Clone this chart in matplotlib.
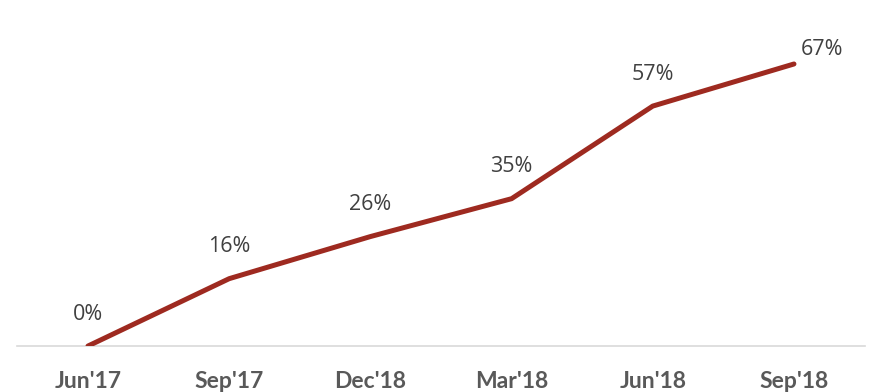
import matplotlib.pyplot as plt

# quarterly share values
quarters = ["Jun'17", "Sep'17", "Dec'18", "Mar'18", "Jun'18", "Sep'18"]
share = [0, 16, 26, 35, 57, 67]

fig = plt.figure(figsize=(8.74, 3.92), dpi=100)
ax = fig.add_axes([0.0199, 0.1173, 0.9693, 0.8827])

x = list(range(len(quarters)))
ax.plot(x, share, color='#9E2A20', linewidth=3.6, solid_capstyle='round',
        solid_joinstyle='round', zorder=3)

# data labels above the points, last one off to the right
for i, v in enumerate(share):
    if i == len(share) - 1:
        off = (28, 14)
    else:
        off = (0, 32)
    ax.annotate(f'{v}%', (i, v), xytext=off, textcoords='offset pixels',
                ha='center', va='center', fontsize=15.5, family='Open Sans',
                color='#404040')

ax.set_xlim(-0.5, 5.5)
ax.set_ylim(0, 82.2)
ax.set_xticks(x)
ax.set_xticklabels(quarters, fontsize=16.5, fontweight='bold', family='Lato',
                   color='#595959')
ax.tick_params(axis='x', length=0, pad=18)
ax.set_yticks([])
for s in ['top', 'right', 'left']:
    ax.spines[s].set_visible(False)
ax.spines['bottom'].set_color('#D9D9D9')
ax.spines['bottom'].set_linewidth(1.2)

fig.savefig('out.png', dpi=100)
